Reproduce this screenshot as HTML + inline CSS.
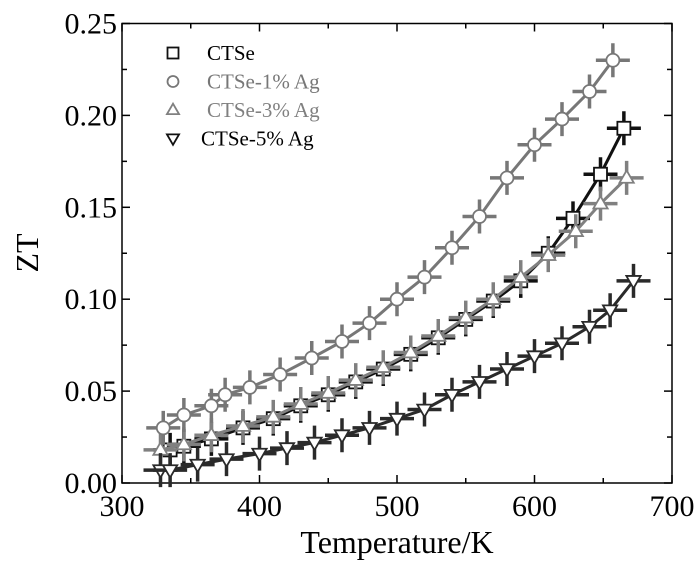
<!DOCTYPE html>
<html><head><meta charset="utf-8"><style>
html,body{margin:0;padding:0;background:#fff;}
svg{display:block;font-family:"Liberation Serif",serif;}
</style></head><body>
<svg id="chart" width="700" height="562" viewBox="0 0 700 562">
<rect x="122" y="23.5" width="550" height="459.5" fill="none" stroke="#000" stroke-width="1.5"/>
<g id="axes"></g>
<g id="series"></g>
<g id="legend"></g>
<text x="38" y="253" font-size="32" text-anchor="middle" transform="rotate(-90 38 253)">ZT</text>
<text x="397" y="553" font-size="32" text-anchor="middle">Temperature/K</text>
</svg>
<script>
const xTicks=[300,400,500,600,700];
const yTicks=[0,0.05,0.10,0.15,0.20,0.25];
const yTickLabels=["0.00","0.05","0.10","0.15","0.20","0.25"];
const seriesNames=["CTSe","CTSe-1% Ag","CTSe-3% Ag","CTSe-5% Ag"];
const ctseT=[335,345,365,388,410,430,450,470,490,510,530,550,570,590,610,628,648,665];
const ctseZT=[0.018,0.020,0.024,0.030,0.035,0.042,0.048,0.055,0.062,0.070,0.079,0.089,0.099,0.110,0.125,0.144,0.168,0.193];
const ag1T=[330,345,365,375,393,415,438,460,480,500,520,540,560,580,600,620,640,657];
const ag1ZT=[0.030,0.037,0.042,0.048,0.052,0.059,0.068,0.077,0.087,0.100,0.112,0.128,0.145,0.166,0.184,0.198,0.213,0.230];
const ag3T=[328,345,365,388,410,430,450,470,490,510,530,550,570,590,610,630,648,667];
const ag3ZT=[0.018,0.021,0.026,0.031,0.036,0.043,0.049,0.056,0.063,0.071,0.080,0.090,0.100,0.112,0.124,0.137,0.152,0.166];
const ag5T=[328,335,355,376,400,420,440,460,480,500,520,540,560,580,600,620,640,655,672];
const ag5ZT=[0.007,0.007,0.010,0.013,0.016,0.019,0.022,0.026,0.030,0.035,0.040,0.048,0.055,0.062,0.069,0.076,0.085,0.094,0.110];

const NS="http://www.w3.org/2000/svg";
const X=t=>122+(t-300)*550/400;
const Y=v=>483-v*459.5/0.25;
function mk(tag,attrs,parent){const e=document.createElementNS(NS,tag);for(const k in attrs)e.setAttribute(k,attrs[k]);parent.appendChild(e);return e;}
const axes=document.getElementById('axes');
for(let t=300;t<=700;t+=50){
 const len=(t%100===0)?8:5;
 const l=mk('line',{x1:X(t),x2:X(t),y1:483,y2:483-len,stroke:'#000','stroke-width':1.5},axes);
 
 
 const l2=mk('line',{x1:X(t),x2:X(t),y1:23.5,y2:23.5+len,stroke:'#000','stroke-width':1.5},axes);
 
 
}
xTicks.forEach(t=>{
 const tx=mk('text',{x:X(t),y:516,'font-size':30,'text-anchor':'middle'},axes);tx.textContent=t;
 
 
});
for(let i=0;i<=10;i++){
 const v=i*0.025,len=(i%2===0)?8:5;
 const l=mk('line',{x1:122,x2:122+len,y1:Y(v),y2:Y(v),stroke:'#000','stroke-width':1.5},axes);
 
 
 const l2=mk('line',{x1:672,x2:672-len,y1:Y(v),y2:Y(v),stroke:'#000','stroke-width':1.5},axes);
 
 
}
yTicks.forEach((v,i)=>{
 const tx=mk('text',{x:117,y:Y(v)+10,'font-size':30,'text-anchor':'end'},axes);tx.textContent=yTickLabels[i];
 
 
});
function marker(shape,cx,cy,color,parent,r){
 let e;
 if(shape==='sq')e=mk('rect',{x:cx-r,y:cy-r,width:2*r,height:2*r},parent);
 else if(shape==='ci')e=mk('circle',{cx:cx,cy:cy,r:r},parent);
 else if(shape==='up')e=mk('polygon',{points:`${cx},${cy-r*1.15} ${cx-r*1.1},${cy+r*0.75} ${cx+r*1.1},${cy+r*0.75}`},parent);
 else e=mk('polygon',{points:`${cx},${cy+r*1.15} ${cx-r*1.1},${cy-r*0.75} ${cx+r*1.1},${cy-r*0.75}`},parent);
 e.setAttribute('fill','#fff');e.setAttribute('stroke',color);e.setAttribute('stroke-width',1.8);
 return e;
}
const defs=[[ctseT,ctseZT,'sq','#111','ctse'],[ag3T,ag3ZT,'up','#808080','ag3'],[ag5T,ag5ZT,'dn','#2a2a2a','ag5'],[ag1T,ag1ZT,'ci','#777','ag1']];
const sg=document.getElementById('series');
defs.forEach(([T,Z,sh,c,nm])=>{
 const g=mk('g',{},sg);
 
 
 const pl=mk('polyline',{points:T.map((t,i)=>X(t)+','+Y(Z[i])).join(' '),fill:'none',stroke:c,'stroke-width':3},g);
 
 
 T.forEach((t,i)=>{
  const x=X(t),y=Y(Z[i]);
  const e=mk('path',{d:`M${x-17},${y}H${x+17}M${x},${y-17}V${y+17}`,stroke:c,'stroke-width':3.5},g);
  
  
  const m=marker(sh,x,y,c,g,6.5);
  
  
 });
});
const lg=document.getElementById('legend');
const lShapes=['sq','ci','up','dn'],lCols=['#111','#777','#808080','#111'],lTxt=['#000','#777','#808080','#000'],lx=[207,207,207,201];
seriesNames.forEach((n,i)=>{
 const y=53+i*28.5;
 const m=marker(lShapes[i],173,y,lCols[i],lg,5.5);
 
 
 const t=mk('text',{x:lx[i],y:y+7,'font-size':21,fill:lTxt[i]},lg);t.textContent=n;
 
 
});
</script>
</body></html>
